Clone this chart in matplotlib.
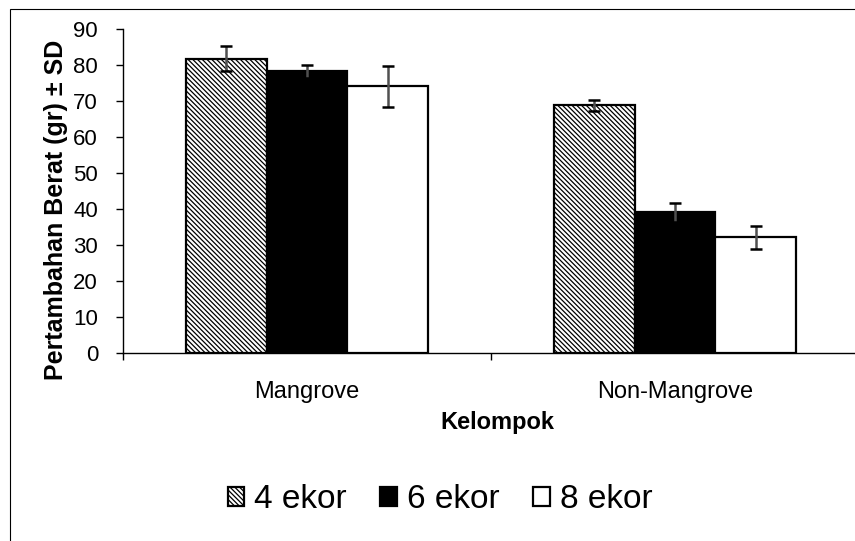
import numpy as np
import matplotlib
matplotlib.use("Agg")
import matplotlib.pyplot as plt
from matplotlib.patches import Rectangle

plt.rcParams['font.family'] = ['Liberation Sans', 'DejaVu Sans']
plt.rcParams['hatch.linewidth'] = 0.9

# data
kelompok = ["Mangrove", "Non-Mangrove"]
seri = ["4 ekor", "6 ekor", "8 ekor"]
nilai_4 = [81.8, 68.8]
nilai_6 = [78.2, 39.1]
nilai_8 = [74.1, 32.1]
sd_4 = [3.4, 1.5]
sd_6 = [1.9, 2.6]
sd_8 = [5.7, 3.2]

nilai = [nilai_4, nilai_6, nilai_8]
sd = [sd_4, sd_6, sd_8]
warna = ["white", "black", "white"]
arsir = ["\\" * 7, None, None]

fig = plt.figure(figsize=(8.55, 5.41), dpi=100)
# outer frame of the (cropped) chart area
fig.patches.append(Rectangle((10/855, -0.1), 1.2, 0.1 + (541-9)/541, transform=fig.transFigure,
                             fill=False, edgecolor="black", linewidth=0.8))
ax = fig.add_axes([123/855, (541-353)/541, 736/855, 324/541])

x = np.arange(len(kelompok))
w = 0.22
bars = []
for i in range(3):
    pos = x + (i - 1) * w
    b = ax.bar(pos, nilai[i], w, color=warna[i], edgecolor="black", linewidth=1.6,
               hatch=arsir[i], label=seri[i], zorder=2)
    bars.append(b)
    ax.errorbar(pos, nilai[i], yerr=sd[i], fmt="none", ecolor="#505050", elinewidth=1.8,
                capsize=0, zorder=3)
    ax.errorbar(pos, nilai[i], yerr=sd[i], fmt="none", ecolor="black", elinewidth=0,
                capsize=4.5, capthick=1.8, zorder=4)

ax.set_xlim(-0.5, 1.5)
ax.set_ylim(0, 90)
ax.set_yticks(range(0, 91, 10))
ax.set_xticks(x)
ax.set_xticklabels(kelompok, fontsize=17)
ax.set_xticks([-0.5, 0.5, 1.5], minor=True)
ax.tick_params(axis="x", which="major", length=0, pad=20)
ax.tick_params(axis="x", which="minor", length=5, direction="out", width=1)
ax.tick_params(axis="y", length=5, direction="out", width=1, labelsize=16, pad=13)
for s in ["top", "right"]:
    ax.spines[s].set_visible(False)
for s in ["left", "bottom"]:
    ax.spines[s].set_linewidth(1.0)

ax.set_ylabel("Pertambahan Berat (gr) ± SD", fontsize=18, fontweight="bold")
ax.yaxis.set_label_coords((68-123)/736, (353-210)/324)
ax.set_xlabel("Kelompok", fontsize=17, fontweight="bold")
ax.xaxis.set_label_coords((497-123)/736, -58/324)

leg = fig.legend(handles=bars, labels=seri, loc="center", bbox_to_anchor=(440/855, 1 - 500/541),
                 ncol=3, frameon=False, fontsize=24, handlelength=0.5, handleheight=0.5,
                 handletextpad=0.3, columnspacing=1.0)

fig.savefig("out.png", dpi=100)
